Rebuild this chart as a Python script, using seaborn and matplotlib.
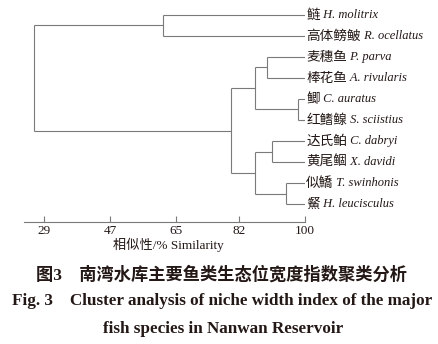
import matplotlib
matplotlib.use("Agg")
import matplotlib.pyplot as plt
import seaborn as sns

# ---- data ----
species_cn = ["鲢", "高体鳑鲏", "麦穗鱼", "棒花鱼", "鲫", "红鳍鳈",
              "达氏鲌", "黄尾鲴", "似鱎", "䱗"]
species_latin = ["H. molitrix", "R. ocellatus", "P. parva", "A. rivularis",
                 "C. auratus", "S. sciistius", "C. dabryi", "X. davidi",
                 "T. swinhonis", "H. leucisculus"]
# linkage: (cluster a, cluster b, similarity %); new clusters numbered 10, 11, ...
merge_a = [4, 8, 6, 2, 13, 12, 14, 0, 17]
merge_b = [5, 9, 7, 3, 10, 11, 15, 1, 16]
merge_sim = [98.2, 94.7, 90.9, 89.8, 86.4, 86.4, 79.8, 61.4, 26.4]
xticks = [29, 47, 65, 82, 100]

line_col = "#7a7a7a"
text_col = "#231815"

sns.set_style("ticks")
plt.rcParams["font.family"] = ["Liberation Serif", "Noto Sans CJK SC"]

fig = plt.figure(figsize=(4.39, 3.44), dpi=100)
ax = fig.add_axes([24 / 439, 1 - 222 / 344, 281 / 439, 217 / 344])

n = len(species_cn)
node_x = {i: 100.0 for i in range(n)}
node_y = {i: float(i) for i in range(n)}
for k, (a, b, s) in enumerate(zip(merge_a, merge_b, merge_sim)):
    cid = n + k
    ya, yb = node_y[a], node_y[b]
    ax.plot([node_x[a], s], [ya, ya], color=line_col, lw=0.8, solid_capstyle="butt")
    ax.plot([node_x[b], s], [yb, yb], color=line_col, lw=0.8, solid_capstyle="butt")
    ax.plot([s, s], [ya, yb], color=line_col, lw=0.8, solid_capstyle="butt")
    node_x[cid] = s
    node_y[cid] = (ya + yb) / 2

for i, (cn, la) in enumerate(zip(species_cn, species_latin)):
    t1 = ax.text(100.3, i, cn, ha="left", va="center", fontsize=9.8,
                 color=text_col, family=["Noto Sans CJK SC"], clip_on=False)
    ax.annotate(" " + la, xy=(1, 0.5), xycoords=t1, ha="left", va="center",
                fontsize=9, fontstyle="italic", color=text_col,
                family=["Liberation Serif"], annotation_clip=False)

ax.set_xlim(23.6, 100)
ax.set_ylim(9.857, -0.476)
ax.set_xticks(xticks)
ax.set_xticklabels([str(t) for t in xticks])
ax.set_yticks([])
for side in ["left", "top", "right"]:
    ax.spines[side].set_visible(False)
ax.spines["bottom"].set_color(line_col)
ax.spines["bottom"].set_linewidth(0.8)
ax.tick_params(axis="x", direction="in", length=4, width=0.8, color=line_col,
               labelsize=9.5, labelcolor=text_col, pad=2.5)
ax.set_facecolor("none")

fig.text(168 / 439, 1 - 245 / 344, "相似性/% Similarity", ha="center", va="center",
         fontsize=9.5, color=text_col)
fig.text(222 / 439, 1 - 275 / 344, "图3\u3000南湾水库主要鱼类生态位宽度指数聚类分析",
         ha="center", va="center", fontsize=12.4, fontweight="bold", color=text_col,
         family=["Liberation Serif", "Noto Sans CJK SC"])
fig.text(222 / 439, 1 - 301 / 344,
         "Fig. 3    Cluster analysis of niche width index of the major",
         ha="center", va="center", fontsize=12.3, fontweight="bold", color=text_col,
         family=["Liberation Serif"])
fig.text(223 / 439, 1 - 329 / 344, "fish species in Nanwan Reservoir",
         ha="center", va="center", fontsize=12.3, fontweight="bold", color=text_col,
         family=["Liberation Serif"])

fig.savefig("out.png", dpi=100, facecolor="white")
